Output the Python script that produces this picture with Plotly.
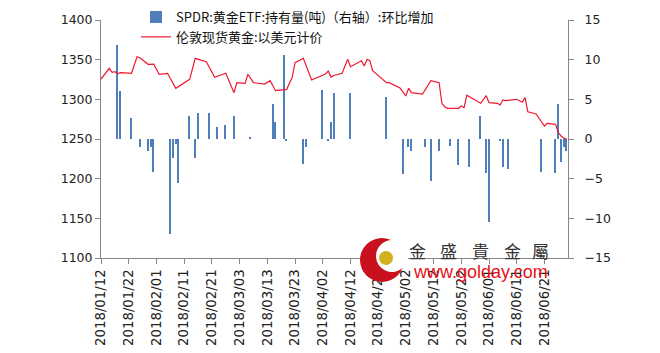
import plotly.graph_objects as go

# ---- Data ----
price_dates = ["2018-01-12","2018-01-15","2018-01-16","2018-01-17","2018-01-18","2018-01-19",
    "2018-01-22","2018-01-23","2018-01-25","2018-01-26","2018-01-29","2018-01-31","2018-02-02",
    "2018-02-05","2018-02-08","2018-02-13","2018-02-15","2018-02-19","2018-02-22","2018-02-26",
    "2018-03-01","2018-03-02","2018-03-05","2018-03-06","2018-03-08","2018-03-12","2018-03-14",
    "2018-03-16","2018-03-20","2018-03-22","2018-03-23","2018-03-26","2018-03-29","2018-04-03",
    "2018-04-04","2018-04-05","2018-04-06","2018-04-09","2018-04-11","2018-04-12","2018-04-16",
    "2018-04-17","2018-04-18","2018-04-19","2018-04-20","2018-04-23","2018-04-24","2018-04-25",
    "2018-04-26","2018-04-30","2018-05-02","2018-05-03","2018-05-04","2018-05-08","2018-05-11",
    "2018-05-14","2018-05-15","2018-05-16","2018-05-17","2018-05-18","2018-05-21","2018-05-22",
    "2018-05-23","2018-05-24","2018-05-29","2018-05-31","2018-06-01","2018-06-04","2018-06-05",
    "2018-06-06","2018-06-07","2018-06-11","2018-06-13","2018-06-14","2018-06-15","2018-06-18",
    "2018-06-19","2018-06-21","2018-06-22","2018-06-25","2018-06-26","2018-06-27","2018-06-28",
    "2018-06-29"]
price_values = [1325.6,1339.1,1334.1,1334.8,1332.3,1333.6,
    1333.0,1332.8,1353.7,1352.5,1344.2,1344.5,1331.6,
    1332.8,1313.9,1325.2,1351.7,1347.4,1327.8,1332.8,
    1308.4,1321.0,1320.2,1331.6,1321.0,1319.3,1323.5,
    1310.9,1312.6,1327.8,1346.2,1351.7,1324.4,1331.9,
    1335.7,1328.0,1330.0,1332.8,1350.5,1341.1,1348.7,
    1342.0,1350.5,1348.7,1336.1,1327.3,1323.5,1321.0,
    1321.0,1313.9,1304.2,1313.9,1308.4,1306.7,1323.5,
    1321.0,1295.0,1290.7,1288.7,1288.7,1288.7,1291.6,
    1289.5,1305.1,1295.0,1304.6,1295.8,1295.0,1292.9,
    1299.2,1298.3,1300.0,1296.3,1302.1,1284.4,1281.5,
    1276.8,1266.4,1269.8,1268.5,1258.1,1253.8,1251.1,
    1250.0]

spdr_dates = ["2018-01-18","2018-01-19","2018-01-23","2018-01-26","2018-01-29","2018-01-30",
    "2018-01-31","2018-02-06","2018-02-07","2018-02-08","2018-02-09","2018-02-13","2018-02-15",
    "2018-02-16","2018-02-20","2018-02-23","2018-02-26","2018-03-01","2018-03-07","2018-03-15",
    "2018-03-16","2018-03-19","2018-03-20","2018-03-26","2018-03-27","2018-04-02","2018-04-04",
    "2018-04-05","2018-04-06","2018-04-12","2018-04-25","2018-05-01","2018-05-03","2018-05-04",
    "2018-05-09","2018-05-11","2018-05-14","2018-05-18","2018-05-21","2018-05-25","2018-05-29",
    "2018-05-31","2018-06-01","2018-06-05","2018-06-06","2018-06-08","2018-06-20","2018-06-25",
    "2018-06-26","2018-06-27","2018-06-28","2018-06-29"]
spdr_values = [11.8,6.0,2.7,-1.05,-1.47,-1.05,
    -4.1,-12.0,-2.4,-0.6,-5.6,2.9,-2.4,
    3.3,3.3,1.55,1.8,2.9,0.2,4.4,
    2.1,10.6,-0.2,-3.2,-1.05,6.2,-0.25,
    2.2,5.8,5.8,5.3,-4.4,-1.05,-1.47,
    -1.05,-5.25,-1.5,-0.84,-3.3,-3.5,2.9,
    -4.3,-10.5,-0.2,-3.5,-3.8,-4.1,-4.3,
    4.4,-2.9,-1.05,-1.5]

left_ticks = [1100, 1150, 1200, 1250, 1300, 1350, 1400]
right_ticks = [-15, -10, -5, 0, 5, 10, 15]

name_bar = "SPDR:黄金ETF:持有量(吨)（右轴）:环比增加"
name_line = "伦敦现货黄金:以美元计价"

# ---- Figure ----
W, H = 660, 353
ML, MR, MT, MB = 101, 92, 20, 95
PW, PH = W - ML - MR, H - MT - MB

def px(x):
    return (x - ML) / PW

def py(y):
    return (H - MB - y) / PH

fig = go.Figure()
fig.add_trace(go.Bar(
    x=spdr_dates, y=spdr_values, name=name_bar, yaxis="y",
    marker=dict(color="#4f7fbb", line=dict(width=0)),
    width=0.55 * 86400000,
))
fig.add_trace(go.Scatter(
    x=price_dates, y=price_values, name=name_line, yaxis="y2",
    mode="lines", line=dict(color="#f01830", width=1.2),
))

axis_font = dict(family="DejaVu Sans", size=12.5, color="#222")
x_font = dict(family="DejaVu Sans", size=13.3, color="#222")
fig.update_layout(
    width=W, height=H,
    margin=dict(l=ML, r=MR, t=MT, b=MB, autoexpand=False),
    paper_bgcolor="white", plot_bgcolor="white",
    showlegend=True,
    legend=dict(
        x=px(136), y=py(2), xanchor="left", yanchor="top",
        font=dict(family="Noto Sans CJK SC", size=13, color="#111"),
        bgcolor="rgba(0,0,0,0)", tracegroupgap=0, itemwidth=30,
    ),
    bargap=0,
    xaxis=dict(
        type="date",
        range=["2018-01-12", "2018-06-29 12:00"],
        tick0="2018-01-12", dtick=10 * 86400000,
        tickformat="%Y/%m/%d", tickangle=-90,
        tickfont=x_font,
        showgrid=False, zeroline=False,
        showline=True, linecolor="#888", linewidth=1,
        ticks="outside", ticklen=5, tickcolor="#888",
    ),
    yaxis=dict(
        side="right", range=[-15, 15], tickvals=right_ticks,
        tickfont=axis_font, showgrid=False, zeroline=False,
        showline=True, linecolor="#888", linewidth=1,
        ticks="outside", ticklen=5, tickcolor="#888",
        ticklabelstandoff=8,
    ),
    yaxis2=dict(
        side="left", overlaying="y", range=[1100, 1400], tickvals=left_ticks,
        tickfont=axis_font, showgrid=False, zeroline=False,
        showline=True, linecolor="#888", linewidth=1,
        ticks="outside", ticklen=5, tickcolor="#888",
    ),
)

# ---- Watermark (logo + text) ----
def circle(cx, cy, r, color):
    fig.add_shape(type="circle", xref="paper", yref="paper",
                  x0=px(cx - r), x1=px(cx + r), y0=py(cy + r), y1=py(cy - r),
                  fillcolor=color, line=dict(width=0), layer="above")

circle(382, 260, 22, "#c8101e")
circle(392, 256, 16, "white")
circle(386, 258, 7, "#d4b020")

chars = ["金", "盛", "貴", "金", "屬"]
cxs = [417, 448, 480, 512, 540]
for ch, cx in zip(chars, cxs):
    fig.add_annotation(x=px(cx), y=py(250), xref="paper", yref="paper",
                       text=ch, showarrow=False, xanchor="center", yanchor="middle",
                       font=dict(family="Noto Sans CJK TC", size=17, color="#333"))
fig.add_annotation(x=px(480), y=py(272), xref="paper", yref="paper",
                   text="www.golday.com", showarrow=False, xanchor="center", yanchor="middle",
                   font=dict(family="Liberation Sans", size=18, color="#e8101a"))

fig.write_html("out.html")
